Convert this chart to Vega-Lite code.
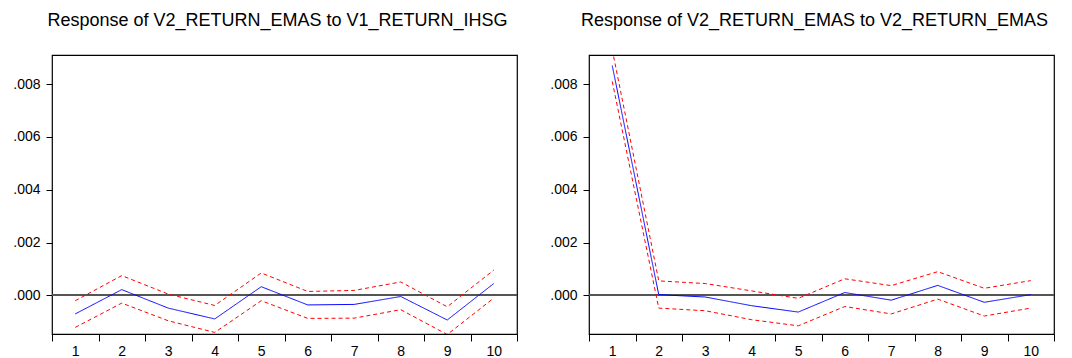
{
  "$schema": "https://vega.github.io/schema/vega-lite/v6.json",
  "padding": {"left": 12, "top": 11, "right": 5, "bottom": 5},
  "bounds": "flush",
  "spacing": 72,
  "config": {
    "font": "Liberation Sans",
    "view": {"stroke": "#000000", "strokeWidth": 1.2},
    "axis": {"labelFont": "Liberation Sans", "labelColor": "#000000", "labelFontSize": 14, "tickColor": "#000000", "domain": false, "grid": false, "title": null},
    "title": {"font": "Liberation Sans", "fontSize": 18, "fontWeight": "normal", "color": "#000000", "anchor": "middle", "offset": 25, "dx": -7}
  },
  "datasets": {
    "irf": [
      {"panel": "L", "step": 1, "series": "resp", "value": -0.0007},
      {"panel": "L", "step": 2, "series": "resp", "value": 0.00022},
      {"panel": "L", "step": 3, "series": "resp", "value": -0.00048},
      {"panel": "L", "step": 4, "series": "resp", "value": -0.00089},
      {"panel": "L", "step": 5, "series": "resp", "value": 0.00033},
      {"panel": "L", "step": 6, "series": "resp", "value": -0.00036},
      {"panel": "L", "step": 7, "series": "resp", "value": -0.00034},
      {"panel": "L", "step": 8, "series": "resp", "value": -0.00004},
      {"panel": "L", "step": 9, "series": "resp", "value": -0.00093},
      {"panel": "L", "step": 10, "series": "resp", "value": 0.00045},
      {"panel": "L", "step": 1, "series": "upper", "value": -0.0002},
      {"panel": "L", "step": 2, "series": "upper", "value": 0.00075},
      {"panel": "L", "step": 3, "series": "upper", "value": 0.00005},
      {"panel": "L", "step": 4, "series": "upper", "value": -0.00038},
      {"panel": "L", "step": 5, "series": "upper", "value": 0.00085},
      {"panel": "L", "step": 6, "series": "upper", "value": 0.00015},
      {"panel": "L", "step": 7, "series": "upper", "value": 0.00019},
      {"panel": "L", "step": 8, "series": "upper", "value": 0.00051},
      {"panel": "L", "step": 9, "series": "upper", "value": -0.00043},
      {"panel": "L", "step": 10, "series": "upper", "value": 0.00096},
      {"panel": "L", "step": 1, "series": "lower", "value": -0.00121},
      {"panel": "L", "step": 2, "series": "lower", "value": -0.00029},
      {"panel": "L", "step": 3, "series": "lower", "value": -0.00096},
      {"panel": "L", "step": 4, "series": "lower", "value": -0.0014},
      {"panel": "L", "step": 5, "series": "lower", "value": -0.0002},
      {"panel": "L", "step": 6, "series": "lower", "value": -0.00087},
      {"panel": "L", "step": 7, "series": "lower", "value": -0.00086},
      {"panel": "L", "step": 8, "series": "lower", "value": -0.00054},
      {"panel": "L", "step": 9, "series": "lower", "value": -0.00148},
      {"panel": "L", "step": 10, "series": "lower", "value": -0.0001},
      {"panel": "R", "step": 1, "series": "resp", "value": 0.0087},
      {"panel": "R", "step": 2, "series": "resp", "value": 0.00003},
      {"panel": "R", "step": 3, "series": "resp", "value": -0.00006},
      {"panel": "R", "step": 4, "series": "resp", "value": -0.00039},
      {"panel": "R", "step": 5, "series": "resp", "value": -0.00063},
      {"panel": "R", "step": 6, "series": "resp", "value": 0.00011},
      {"panel": "R", "step": 7, "series": "resp", "value": -0.00018},
      {"panel": "R", "step": 8, "series": "resp", "value": 0.00038},
      {"panel": "R", "step": 9, "series": "resp", "value": -0.00026},
      {"panel": "R", "step": 10, "series": "resp", "value": 0.00003},
      {"panel": "R", "step": 1, "series": "upper", "value": 0.0093},
      {"panel": "R", "step": 2, "series": "upper", "value": 0.00055},
      {"panel": "R", "step": 3, "series": "upper", "value": 0.00045},
      {"panel": "R", "step": 4, "series": "upper", "value": 0.00017},
      {"panel": "R", "step": 5, "series": "upper", "value": -0.00011},
      {"panel": "R", "step": 6, "series": "upper", "value": 0.00063},
      {"panel": "R", "step": 7, "series": "upper", "value": 0.00037},
      {"panel": "R", "step": 8, "series": "upper", "value": 0.0009},
      {"panel": "R", "step": 9, "series": "upper", "value": 0.00027},
      {"panel": "R", "step": 10, "series": "upper", "value": 0.00056},
      {"panel": "R", "step": 1, "series": "lower", "value": 0.0081},
      {"panel": "R", "step": 2, "series": "lower", "value": -0.00048},
      {"panel": "R", "step": 3, "series": "lower", "value": -0.00058},
      {"panel": "R", "step": 4, "series": "lower", "value": -0.00092},
      {"panel": "R", "step": 5, "series": "lower", "value": -0.00115},
      {"panel": "R", "step": 6, "series": "lower", "value": -0.00042},
      {"panel": "R", "step": 7, "series": "lower", "value": -0.0007},
      {"panel": "R", "step": 8, "series": "lower", "value": -0.00014},
      {"panel": "R", "step": 9, "series": "lower", "value": -0.00078},
      {"panel": "R", "step": 10, "series": "lower", "value": -0.00048}
    ]
  },
  "hconcat": [
    {
      "title": "Response of V2_RETURN_EMAS to V1_RETURN_IHSG",
      "width": 465,
      "height": 279,
      "data": {"name": "irf"},
      "transform": [{"filter": "datum.panel === 'L'"}],
      "layer": [
        {
          "mark": {"type": "rule", "color": "#555555", "strokeWidth": 1.2},
          "encoding": {"y": {"datum": 0, "type": "quantitative", "scale": {"domain": [-0.00146, 0.0091], "nice": false, "zero": false}}}
        },
        {
          "mark": {"type": "line", "strokeWidth": 1, "clip": true},
          "encoding": {
            "x": {"field": "step", "type": "ordinal", "bandPosition": 0.5,
                  "scale": {"type": "band", "paddingInner": 0, "paddingOuter": 0},
                  "axis": {"labelAngle": 0, "tickBand": "extent", "tickSize": 7, "labelPadding": 3}},
            "y": {"field": "value", "type": "quantitative",
                  "scale": {"domain": [-0.00146, 0.0091], "nice": false, "zero": false},
                  "axis": {"values": [0, 0.002, 0.004, 0.006, 0.008], "labelExpr": "substring(format(datum.value, '.3f'), 1)", "tickSize": 6, "labelPadding": 6}},
            "color": {"field": "series", "type": "nominal", "scale": {"domain": ["resp", "upper", "lower"], "range": ["#0000ff", "#ff0000", "#ff0000"]}, "legend": null},
            "strokeDash": {"field": "series", "type": "nominal", "scale": {"domain": ["resp", "upper", "lower"], "range": [[1, 0], [4, 3], [4, 3]]}, "legend": null}
          }
        }
      ]
    },
    {
      "title": "Response of V2_RETURN_EMAS to V2_RETURN_EMAS",
      "width": 465,
      "height": 279,
      "data": {"name": "irf"},
      "transform": [{"filter": "datum.panel === 'R'"}],
      "layer": [
        {
          "mark": {"type": "rule", "color": "#555555", "strokeWidth": 1.2},
          "encoding": {"y": {"datum": 0, "type": "quantitative", "scale": {"domain": [-0.00146, 0.0091], "nice": false, "zero": false}}}
        },
        {
          "mark": {"type": "line", "strokeWidth": 1, "clip": true},
          "encoding": {
            "x": {"field": "step", "type": "ordinal", "bandPosition": 0.5,
                  "scale": {"type": "band", "paddingInner": 0, "paddingOuter": 0},
                  "axis": {"labelAngle": 0, "tickBand": "extent", "tickSize": 7, "labelPadding": 3}},
            "y": {"field": "value", "type": "quantitative",
                  "scale": {"domain": [-0.00146, 0.0091], "nice": false, "zero": false},
                  "axis": {"values": [0, 0.002, 0.004, 0.006, 0.008], "labelExpr": "substring(format(datum.value, '.3f'), 1)", "tickSize": 6, "labelPadding": 6}},
            "color": {"field": "series", "type": "nominal", "scale": {"domain": ["resp", "upper", "lower"], "range": ["#0000ff", "#ff0000", "#ff0000"]}, "legend": null},
            "strokeDash": {"field": "series", "type": "nominal", "scale": {"domain": ["resp", "upper", "lower"], "range": [[1, 0], [4, 3], [4, 3]]}, "legend": null}
          }
        }
      ]
    }
  ]
}
